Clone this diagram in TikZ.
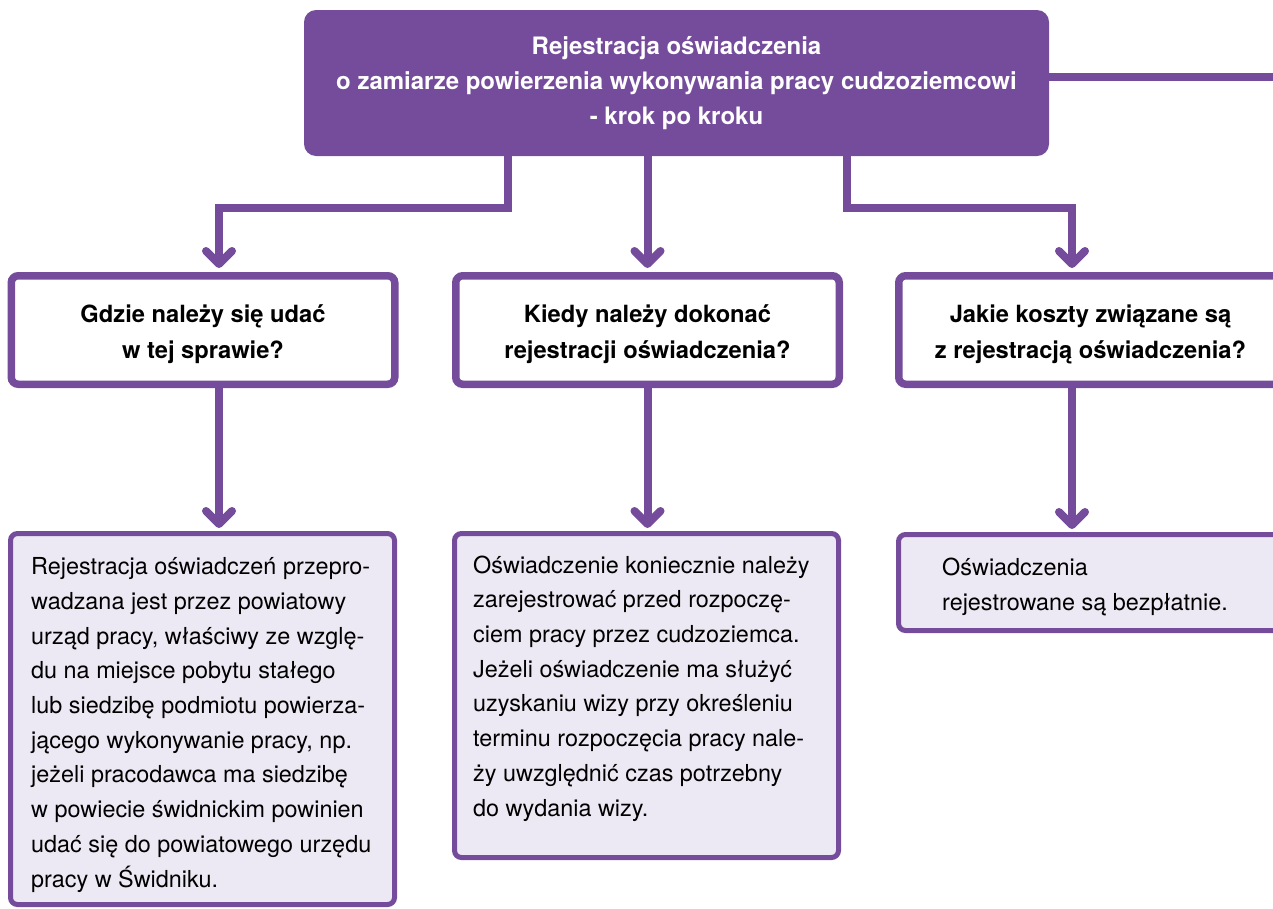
\documentclass[tikz,border=0pt]{standalone}
\usepackage{fontspec}
\setmainfont{TeX Gyre Heros}
\usetikzlibrary{arrows.meta}
\definecolor{fiolet}{HTML}{754C9B}
\definecolor{lawenda}{HTML}{EDE9F4}
\tikzset{
    titlebox/.style={fill=fiolet, rounded corners=12pt, text=white, align=center,
        font=\fontsize{24}{35}\selectfont\bfseries, minimum width=745pt, minimum height=146pt},
    askbox/.style={draw=fiolet, line width=7.5pt, fill=white, rounded corners=7pt, align=center,
        font=\fontsize{23.7}{36}\selectfont\bfseries, minimum width=383.5pt, minimum height=108.5pt},
    infobox/.style={draw=fiolet, line width=5pt, fill=lawenda, rounded corners=7pt, minimum width=384pt},
    infotext/.style={anchor=base west, inner sep=0pt, align=left, font=\fontsize{23.4}{34.7}\selectfont},
    link/.style={draw=fiolet, line width=8pt},
    arrowlink/.style={link, -{Straight Barb[length=13pt, width=26pt, round]}, shorten >=4pt}
}
\newcommand{\podnies}{\rule{0pt}{27pt}}
\begin{document}
\begin{tikzpicture}[x=1pt, y=-1pt]%% start picture
            \useasboundingbox (0, 0) rectangle (1273, 908);

                \coordinate (kneeL) at (508, 208);
                \coordinate (kneeR) at (847, 208);
                \coordinate (colL) at (219, 208);
                \coordinate (colR) at (1072, 208);
                \coordinate (edge) at (1273, 77);

                \node[titlebox] (title) at (676.5, 83)
                    {Rejestracja oświadczenia\\o zamiarze powierzenia wykonywania pracy cudzoziemcowi\\- krok po kroku};

                \node[askbox] (ask1) at (203, 330) {\podnies Gdzie należy się udać\\w tej sprawie?};
                \node[askbox] (ask2) at (647.5, 330) {\podnies Kiedy należy dokonać\\rejestracji oświadczenia?};
                \node[askbox] (ask3) at (1090.5, 330) {\podnies Jakie koszty związane są\\z rejestracją oświadczenia?};

                \node[infobox, minimum height=371pt] (info1) at (202.5, 719) {};
                \node[infobox, minimum height=324pt] (info2) at (646.5, 695.5) {};
                \node[infobox, minimum height=96pt] (info3) at (1090.5, 582.5) {};

            % texts sit on the baseline of their last line
                \node[infotext] (txt1) at (31, 887) {Rejestracja oświadczeń przepro-\\wadzana jest przez powiatowy\\urząd pracy, właściwy ze wzglę-\\du na miejsce pobytu stałego\\lub siedzibę podmiotu powierza-\\jącego wykonywanie pracy, np.\\jeżeli pracodawca ma siedzibę\\w powiecie świdnickim powinien\\udać się do powiatowego urzędu\\pracy w Świdniku.};
                \node[infotext] (txt2) at (473, 816) {Oświadczenie koniecznie należy\\zarejestrować przed rozpoczę-\\ciem pracy przez cudzoziemca.\\Jeżeli oświadczenie ma służyć\\uzyskaniu wizy przy określeniu\\terminu rozpoczęcia pracy nale-\\ży uwzględnić czas potrzebny\\do wydania wizy.};
                \node[infotext] (txt3) at (942, 610) {Oświadczenia\\rejestrowane są bezpłatnie.};

            % from the title down to the questions
                \draw[link] (edge -| title.east) to (edge);
                \draw[arrowlink] (title.south -| kneeL) -- (kneeL) -- (colL) -- (colL |- ask1.north);
                \draw[arrowlink] (title.south -| ask2) to (ask2.north);
                \draw[arrowlink] (title.south -| kneeR) -- (kneeR) -- (colR) -- (colR |- ask3.north);

            % from the questions down to the answers
                \draw[arrowlink, shorten >=3pt] (colL |- ask1.south) to (colL |- info1.north);
                \draw[arrowlink, shorten >=3pt] (ask2.south) to (ask2.south |- info2.north);
                \draw[arrowlink, shorten >=3pt] (colR |- ask3.south) to (colR |- info3.north);

            \end{tikzpicture}
\end{document}
